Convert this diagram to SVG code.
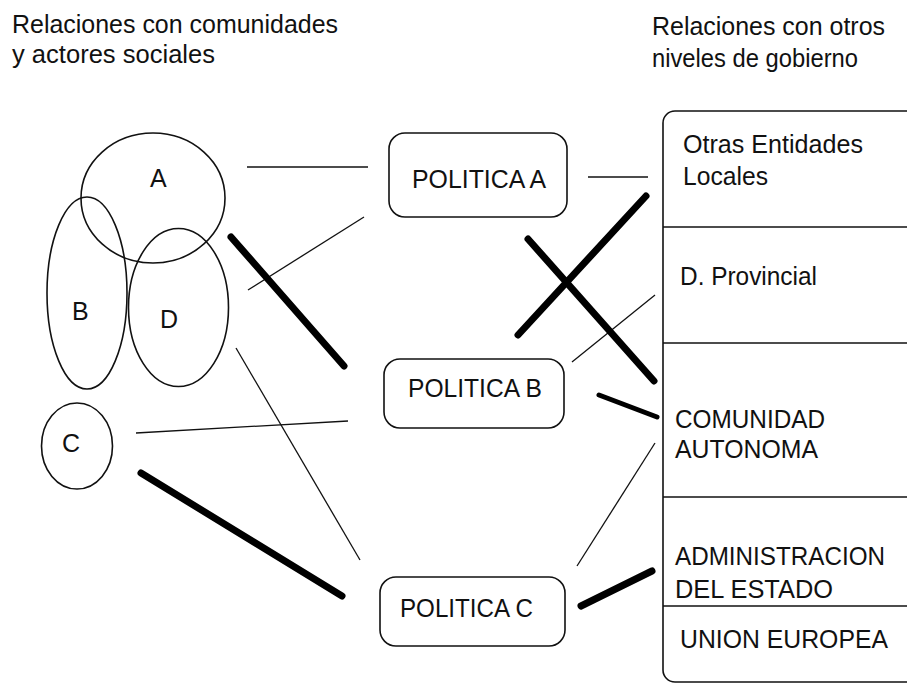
<svg xmlns="http://www.w3.org/2000/svg" width="907" height="684" viewBox="0 0 907 684">
<style>
.t{font-family:"Liberation Sans",Arial,sans-serif;font-size:25px;fill:#111}
.o{fill:none;stroke:#111;stroke-width:1.6}
.thin{stroke:#111;stroke-width:1.3;fill:none}
.thick{stroke:#000;stroke-width:7;stroke-linecap:round;fill:none}
</style>
<rect width="907" height="684" fill="#fff"/>
<g id="titles">
<text class="t" x="12" y="33" textLength="326" lengthAdjust="spacingAndGlyphs">Relaciones con comunidades</text>
<text class="t" x="12" y="63" textLength="203" lengthAdjust="spacingAndGlyphs">y actores sociales</text>
<text class="t" x="652" y="35" textLength="233" lengthAdjust="spacingAndGlyphs">Relaciones con otros</text>
<text class="t" x="652" y="67" textLength="206" lengthAdjust="spacingAndGlyphs">niveles de gobierno</text>
</g>
<g id="connectors">
<line class="thin" x1="247" y1="167" x2="368" y2="167"/>
<line class="thin" x1="588" y1="177" x2="648" y2="177"/>
<line class="thin" x1="248" y1="290" x2="364" y2="217"/>
<line class="thin" x1="572" y1="362" x2="655" y2="295"/>
<line class="thin" x1="136" y1="433" x2="348" y2="421"/>
<line class="thin" x1="236" y1="348" x2="360" y2="560"/>
<line class="thin" x1="577" y1="566" x2="655" y2="443"/>
<line class="thick" x1="231" y1="237" x2="344" y2="366"/>
<line class="thick" x1="141" y1="473" x2="342" y2="596"/>
<line class="thick" x1="518" y1="335" x2="646" y2="196"/>
<line class="thick" x1="528" y1="239" x2="654" y2="381"/>
<line class="thick" x1="599" y1="395" x2="657" y2="417" style="stroke-width:5"/>
<line class="thick" x1="581" y1="606" x2="652" y2="571"/>
</g>
<g id="A"><ellipse class="o" cx="153" cy="198" rx="72" ry="65"/><text class="t" x="150" y="187">A</text></g>
<g id="B"><ellipse class="o" cx="87" cy="293" rx="40" ry="96"/><text class="t" x="72" y="320">B</text></g>
<g id="D"><ellipse class="o" cx="178.5" cy="307.5" rx="50" ry="79"/><text class="t" x="160" y="328">D</text></g>
<g id="C"><ellipse class="o" cx="77" cy="446" rx="35.5" ry="43"/><text class="t" x="62" y="452">C</text></g>
<g id="politicaA"><rect class="o" x="389" y="133" width="178" height="84" rx="16"/><text class="t" x="412" y="188" textLength="134" lengthAdjust="spacingAndGlyphs">POLITICA A</text></g>
<g id="politicaB"><rect class="o" x="384" y="359" width="180" height="69" rx="16"/><text class="t" x="408" y="397" textLength="134" lengthAdjust="spacingAndGlyphs">POLITICA B</text></g>
<g id="politicaC"><rect class="o" x="380" y="577" width="185" height="69" rx="16"/><text class="t" x="400" y="617" textLength="133" lengthAdjust="spacingAndGlyphs">POLITICA C</text></g>
<g id="niveles">
<rect class="o" x="663" y="111" width="300" height="571" rx="12"/>
<line class="o" x1="663" y1="227" x2="907" y2="227"/>
<line class="o" x1="663" y1="343" x2="907" y2="343"/>
<line class="o" x1="663" y1="497" x2="907" y2="497"/>
<line class="o" x1="663" y1="606" x2="907" y2="606"/>
<text class="t" x="683" y="153" textLength="180" lengthAdjust="spacingAndGlyphs">Otras Entidades</text>
<text class="t" x="683" y="185" textLength="85" lengthAdjust="spacingAndGlyphs">Locales</text>
<text class="t" x="680" y="285" textLength="137" lengthAdjust="spacingAndGlyphs">D. Provincial</text>
<text class="t" x="675" y="428" textLength="150" lengthAdjust="spacingAndGlyphs">COMUNIDAD</text>
<text class="t" x="675" y="458" textLength="143" lengthAdjust="spacingAndGlyphs">AUTONOMA</text>
<text class="t" x="675" y="565" textLength="210" lengthAdjust="spacingAndGlyphs">ADMINISTRACION</text>
<text class="t" x="675" y="598" textLength="158" lengthAdjust="spacingAndGlyphs">DEL ESTADO</text>
<text class="t" x="680" y="648" textLength="208" lengthAdjust="spacingAndGlyphs">UNION EUROPEA</text>
</g>
</svg>
